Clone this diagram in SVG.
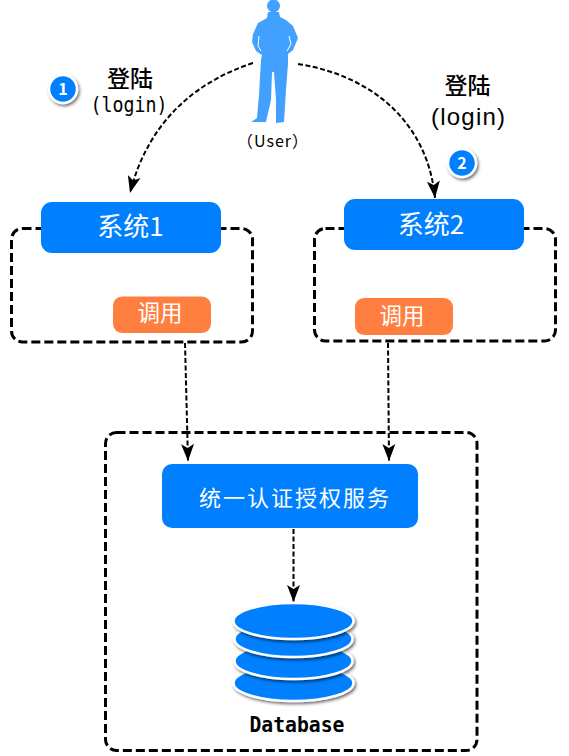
<svg xmlns="http://www.w3.org/2000/svg" width="569" height="756" viewBox="0 0 569 756">
<style>
.box{fill:none;stroke:#000;stroke-width:3;stroke-dasharray:9 4}
.conn{fill:none;stroke:#000;stroke-width:2;stroke-dasharray:5 2.5}
.blue{fill:#0080ff}
.orange{fill:#ff7f41}
.w{fill:#fff;font-family:"Noto Sans CJK SC","Liberation Sans",sans-serif;text-anchor:middle}
.k{fill:#000;font-family:"Noto Sans CJK SC","Liberation Sans",sans-serif;text-anchor:middle}
.m{fill:#000;font-family:"DejaVu Sans Mono","Liberation Mono",monospace;text-anchor:middle}
.disk{fill:#0080ff;stroke:#fff;stroke-width:2.5;filter:url(#sh)}
</style>
<defs>
<filter id="sh" x="-20%" y="-30%" width="140%" height="170%"><feDropShadow dx="1.5" dy="2" stdDeviation="1.8" flood-color="#000" flood-opacity=".55"/></filter>
<marker id="a" markerUnits="userSpaceOnUse" markerWidth="18" markerHeight="16" refX="17" refY="8" orient="auto" overflow="visible"><path d="M0 1.500L17 8L0 14.500L4 8Z" fill="#000"/></marker>
</defs>
<rect width="569" height="756" fill="#fff"/>
<g id="frames">
<rect class="box" x="11.500" y="228.500" width="241" height="113.500" rx="11"/>
<rect class="box" x="314.500" y="228.500" width="241" height="112.500" rx="11"/>
<rect class="box" x="105.500" y="432.500" width="371.500" height="318" rx="11"/>
</g>
<g id="connectors">
<path class="conn" d="M253 63C195 82 148 122 130 193" marker-end="url(#a)"/>
<path class="conn" d="M298 64C375 76 428 125 435 198" marker-end="url(#a)"/>
<path class="conn" d="M185 343L188 461" marker-end="url(#a)"/>
<path class="conn" d="M388 343L389 461" marker-end="url(#a)"/>
<path class="conn" d="M293.500 529L293.500 602" marker-end="url(#a)"/>
</g>
<g id="user">
<circle cx="273.500" cy="6" r="6.500" fill="#42a1ff"/>
<path fill="#42a1ff" d="M268 12L279 12L280 17L286 20L293 26L298 38L293 50L288 54L288 64L286 90L284 122L276 123L276 100L274 72L272 72L271 100L266 122L251 122L257 118L259 95L261 60L262 55L256 51L252 42L253 34L258 23L267 18Z"/>
<path fill="none" stroke="#fff" stroke-width="1" d="M259 36L258 46L261 51M289 36L291 44L287 51"/>
<text x="273" y="147" font-size="16" text-anchor="middle" font-family="Noto Sans CJK SC,sans-serif" letter-spacing="1">（User）</text>
</g>
<g id="badge1">
<circle cx="63" cy="89" r="14" fill="#0080ff" stroke="#fff" stroke-width="2.500" filter="url(#sh)"/>
<text class="w" x="63" y="95" font-size="16" font-weight="700">1</text>
</g>
<g id="badge2">
<circle cx="462" cy="163" r="14" fill="#0080ff" stroke="#fff" stroke-width="2.500" filter="url(#sh)"/>
<text class="w" x="462" y="169" font-size="16" font-weight="700">2</text>
</g>
<g id="label1">
<text class="k" x="130" y="87" font-size="23" font-weight="500">登陆</text>
<text class="m" x="129" y="112" font-size="22" textLength="77" lengthAdjust="spacingAndGlyphs">(login)</text>
</g>
<g id="label2">
<text class="k" x="467.500" y="94" font-size="23" font-weight="500">登陆</text>
<text x="468" y="125" font-size="24" text-anchor="middle" font-family="Liberation Sans,sans-serif" textLength="74">(login)</text>
</g>
<g id="system1">
<rect class="blue" x="41" y="202" width="180" height="51" rx="11"/>
<text class="w" x="130.500" y="236" font-size="26">系统1</text>
</g>
<g id="system2">
<rect class="blue" x="344" y="199" width="180" height="51" rx="11"/>
<text class="w" x="431" y="234" font-size="26">系统2</text>
</g>
<g id="call1">
<rect class="orange" x="113" y="296.500" width="98" height="36.500" rx="9"/>
<text class="w" x="160" y="321" font-size="22.500">调用</text>
</g>
<g id="call2">
<rect class="orange" x="355" y="298" width="98" height="37" rx="9"/>
<text class="w" x="402" y="324" font-size="22.500">调用</text>
</g>
<g id="auth">
<rect class="blue" x="162" y="464" width="256" height="64" rx="10"/>
<text class="w" x="295" y="506" font-size="22" letter-spacing="2">统一认证授权服务</text>
</g>
<g id="database">
<ellipse class="disk" cx="293.500" cy="683" rx="60" ry="18"/>
<ellipse class="disk" cx="293.500" cy="661" rx="59" ry="18"/>
<ellipse class="disk" cx="293.500" cy="639" rx="59" ry="18"/>
<ellipse class="disk" cx="293.500" cy="621" rx="60" ry="18"/>
<text class="m" x="297" y="732" font-size="20.500" font-weight="700" textLength="95" lengthAdjust="spacingAndGlyphs">Database</text>
</g>
</svg>
